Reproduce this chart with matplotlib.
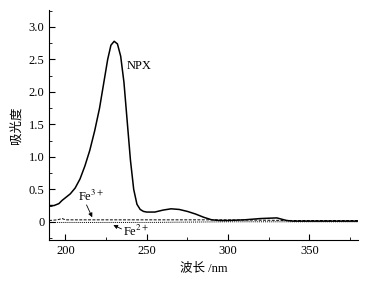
import numpy as np
import matplotlib
matplotlib.use("Agg")
import matplotlib.pyplot as plt
from matplotlib.ticker import MultipleLocator

plt.rcParams['font.family'] = ['Liberation Serif', 'Noto Sans CJK SC']
plt.rcParams['mathtext.fontset'] = 'stix'

# NPX spectrum
npx_nm = [190, 193, 196, 198, 200, 203, 206, 209, 212, 215, 218, 221, 224, 226, 228,
          230, 232, 234, 236, 238, 240, 242, 244, 246, 248, 250, 255, 260, 265, 270,
          275, 280, 285, 290, 295, 300, 310, 320, 330, 333, 336, 340, 360, 380]
npx_abs = [0.25, 0.25, 0.28, 0.33, 0.37, 0.43, 0.52, 0.66, 0.86, 1.1, 1.4, 1.75, 2.2, 2.5, 2.72,
           2.78, 2.74, 2.55, 2.15, 1.55, 0.95, 0.5, 0.27, 0.19, 0.16, 0.15, 0.15, 0.18, 0.2, 0.19,
           0.16, 0.12, 0.07, 0.03, 0.02, 0.02, 0.03, 0.05, 0.06, 0.04, 0.02, 0.01, 0.01, 0.01]

# Fe3+ (dashed) and Fe2+ (dotted) baselines
fe3_nm = [190, 195, 198, 200, 250, 300, 340, 380]
fe3_abs = [0.02, 0.03, 0.05, 0.03, 0.03, 0.03, 0.02, 0.02]
fe2_nm = [190, 200, 250, 300, 340, 380]
fe2_abs = [-0.01, -0.01, -0.01, 0.0, 0.0, 0.0]

fig = plt.figure(figsize=(3.75, 2.81), dpi=100)
ax = fig.add_axes([0.131, 0.146, 0.824, 0.818])

ax.plot(npx_nm, npx_abs, color='black', lw=1.1)
ax.plot(fe3_nm, fe3_abs, color='black', lw=0.7, ls=(0, (3, 1.5)))
ax.plot(fe2_nm, fe2_abs, color='black', lw=0.7, ls=(0, (1, 1)))

ax.set_xlim(190, 380)
ax.set_ylim(-0.28, 3.26)
ax.xaxis.set_major_locator(MultipleLocator(50))
ax.xaxis.set_minor_locator(MultipleLocator(25))
ax.yaxis.set_major_locator(MultipleLocator(0.5))
ax.yaxis.set_minor_locator(MultipleLocator(0.25))
ax.set_yticks([0, 0.5, 1.0, 1.5, 2.0, 2.5, 3.0])
ax.set_yticklabels(['0', '0.5', '1.0', '1.5', '2.0', '2.5', '3.0'])
ax.tick_params(which='both', direction='in', labelsize=9)
ax.tick_params(which='major', length=4)
ax.tick_params(which='minor', length=2)
for s in ['top', 'right']:
    ax.spines[s].set_visible(False)

ax.set_xlabel('波长 /nm', fontsize=9)
ax.set_ylabel('吸光度', fontsize=9)

arrow = dict(arrowstyle='-|>', color='black', lw=0.6, mutation_scale=6,
             shrinkA=0, shrinkB=0)
ax.text(237.5, 2.4, 'NPX', fontsize=9, ha='left', va='center')
ax.text(216, 0.39, 'Fe$^{3+}$', fontsize=9, ha='center', va='center')
ax.annotate('', xy=(216.5, 0.07), xytext=(213, 0.26), arrowprops=arrow)
ax.text(235.5, -0.15, 'Fe$^{2+}$', fontsize=9, ha='left', va='center')
ax.annotate('', xy=(229.5, -0.05), xytext=(234.5, -0.11), arrowprops=arrow)

fig.savefig('out.png', dpi=100)
